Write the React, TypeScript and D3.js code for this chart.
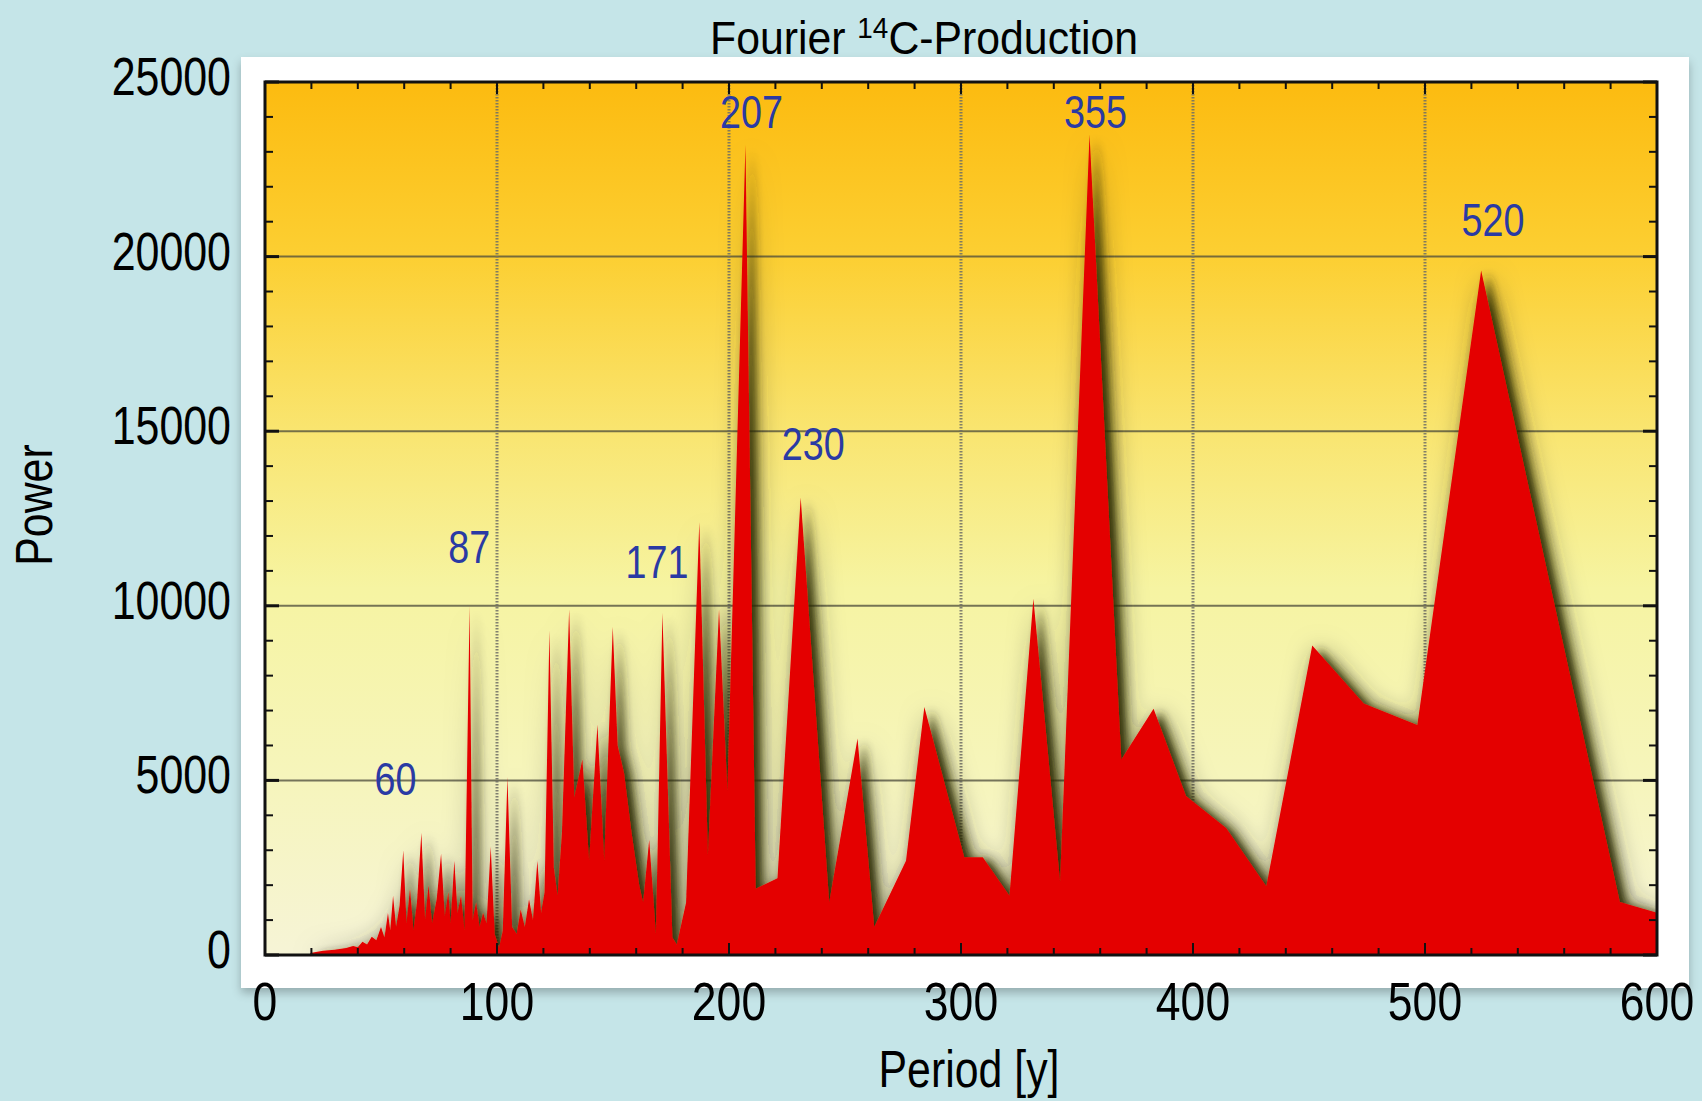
import React from "react";
import * as d3 from "d3";

const periods = [19.5, 25, 30, 35, 38, 40, 42, 44, 46, 48, 50, 51.5, 53, 54, 55.2, 56.5, 58, 59.6, 61, 62.5, 64, 65.5, 67.4, 69, 70.5, 72, 74, 75.9, 77.5, 79, 80, 81.6, 83, 84.5, 86, 88.2, 89.5, 91, 92.5, 94, 95.5, 97.3, 99, 100.9, 102.5, 104.5, 106.5, 108.5, 110.2, 112, 113.8, 115.5, 117.4, 119, 120.5, 122.6, 124.5, 126.1, 128, 131.1, 133.3, 136.8, 139.7, 143.3, 146.2, 149.9, 152, 154.8, 158, 161.3, 163, 165.6, 168.5, 171.3, 175.6, 177.5, 181.5, 187.2, 190.9, 195.7, 199.3, 207.1, 211.5, 220.9, 230.9, 243.2, 255.4, 262.6, 276.3, 284.2, 301.4, 309.4, 320.9, 331.2, 342.7, 355.4, 369.1, 383, 397, 414.3, 431.6, 451.4, 473.6, 496.7, 524.2, 584, 600];
const powers = [60, 120, 150, 200, 260, 220, 380, 300, 520, 420, 800, 500, 1200, 700, 1700, 800, 1400, 3000, 900, 1900, 700, 1500, 3500, 1000, 2000, 900, 1600, 2900, 1100, 1800, 900, 2700, 1200, 1700, 700, 10000, 1000, 1500, 800, 1200, 900, 3100, 600, 200, 700, 5100, 800, 600, 1300, 800, 1600, 1000, 2700, 1200, 1800, 9300, 2500, 1700, 3500, 9900, 4500, 5600, 2700, 6600, 2700, 9400, 6000, 5200, 3500, 2000, 1500, 3300, 600, 9800, 500, 300, 1500, 12400, 2850, 9900, 4700, 23200, 1900, 2200, 13100, 1500, 6200, 800, 2700, 7100, 2800, 2800, 1700, 10200, 2100, 23500, 5600, 7050, 4550, 3640, 1970, 8860, 7200, 6590, 19600, 1520, 1210];

const peakLabels = ["60", "87", "171", "207", "230", "355", "520"];
const peakLabelX = [56.2, 88.0, 169.0, 209.7, 236.3, 358.0, 529.3];
const peakLabelY = [4580, 11215, 10810, 23676, 14174, 23676, 20592];

const xTicks = [0, 100, 200, 300, 400, 500, 600];
const yTicks = [0, 5000, 10000, 15000, 20000, 25000];

const W = 1702, H = 1101;
const L = 265, R = 1657, T = 82, B = 955;
const FONT = "'Liberation Sans', Arial, Helvetica, sans-serif";

function T2(props: { x: number; y: number; sx: number; size: number; anchor?: string; fill?: string; rotate?: number; children: React.ReactNode }) {
  const { x, y, sx, size, anchor = "middle", fill = "#000", rotate = 0, children } = props;
  return (
    <text
      transform={`translate(${x},${y}) rotate(${rotate}) scale(${sx},1)`}
      textAnchor={anchor}
      fontFamily={FONT}
      fontSize={size}
      fill={fill}
    >
      {children}
    </text>
  );
}

export default function App() {
  const x = d3.scaleLinear().domain([0, 600]).range([L, R]);
  const y = d3.scaleLinear().domain([0, 25000]).range([B, T]);
  const data = periods.map((p, i) => ({ p, v: powers[i] }));
  const area = d3.area<{ p: number; v: number }>()
    .x((d) => x(d.p))
    .y0(y(0))
    .y1((d) => y(d.v))
    .curve(d3.curveLinear);

  const xMinor = d3.range(0, 601, 20);
  const yMinor = d3.range(0, 25001, 1000);

  return (
    <svg width={W} height={H} style={{ position: "absolute", left: 0, top: 0, background: "#c5e5e8" }}>
      <defs>
        <linearGradient id="bg" x1="0" y1="0" x2="0" y2="1">
          <stop offset="0" stopColor="#fcbb10" />
          <stop offset="0.2" stopColor="#fccf32" />
          <stop offset="0.4" stopColor="#f9e570" />
          <stop offset="0.58" stopColor="#f6f4a2" />
          <stop offset="0.8" stopColor="#f6f5bc" />
          <stop offset="1" stopColor="#f6f4d6" />
        </linearGradient>
        <filter id="sh" x="-5%" y="-10%" width="115%" height="125%">
          <feGaussianBlur in="SourceAlpha" stdDeviation="5" result="b1" />
          <feOffset in="b1" dx="7" dy="3" result="o1" />
          <feFlood floodColor="#2a2a05" floodOpacity="0.92" />
          <feComposite in2="o1" operator="in" result="s1" />
          <feGaussianBlur in="SourceAlpha" stdDeviation="13" result="b2" />
          <feOffset in="b2" dx="6" dy="3" result="o2" />
          <feFlood floodColor="#303010" floodOpacity="0.55" />
          <feComposite in2="o2" operator="in" result="s2" />
          <feMerge>
            <feMergeNode in="s2" />
            <feMergeNode in="s1" />
            <feMergeNode in="SourceGraphic" />
          </feMerge>
        </filter>
        <filter id="panelSh" x="-5%" y="-5%" width="110%" height="115%">
          <feGaussianBlur in="SourceAlpha" stdDeviation="5" />
          <feOffset dx="0" dy="5" result="b" />
          <feFlood floodColor="#000" floodOpacity="0.25" />
          <feComposite in2="b" operator="in" />
          <feMerge>
            <feMergeNode />
            <feMergeNode in="SourceGraphic" />
          </feMerge>
        </filter>
        <clipPath id="plotClip">
          <rect x={L} y={T} width={R - L} height={B - T} />
        </clipPath>
      </defs>

      <rect x={0} y={0} width={W} height={H} fill="#c5e5e8" />
      <rect x={241} y={57} width={1448} height={931} fill="#ffffff" filter="url(#panelSh)" />
      <rect x={L} y={T} width={R - L} height={B - T} fill="url(#bg)" />

      {yTicks.slice(1, -1).map((t) => (
        <line key={"gy" + t} x1={L} x2={R} y1={y(t)} y2={y(t)} stroke="#4a4a3a" strokeWidth={2} opacity={0.75} />
      ))}
      {xTicks.slice(1, -1).map((t) => (
        <line key={"gx" + t} x1={x(t)} x2={x(t)} y1={T} y2={B} stroke="#6f6f66" strokeWidth={3} strokeDasharray="1.5,1.5" opacity={0.85} />
      ))}

      <g clipPath="url(#plotClip)">
        <path d={area(data) || ""} fill="#e40000" filter="url(#sh)" />
      </g>

      <rect x={L} y={T} width={R - L} height={B - T} fill="none" stroke="#111" strokeWidth={3} />
      {xMinor.map((t) => {
        const major = t % 100 === 0;
        const len = major ? 12 : 7;
        return (
          <g key={"xt" + t}>
            <line x1={x(t)} x2={x(t)} y1={B} y2={B - len} stroke="#111" strokeWidth={2} />
            <line x1={x(t)} x2={x(t)} y1={T} y2={T + len} stroke="#111" strokeWidth={2} />
          </g>
        );
      })}
      {yMinor.map((t) => {
        const major = t % 5000 === 0;
        const len = major ? 14 : 8;
        return (
          <g key={"yt" + t}>
            <line x1={L} x2={L + len} y1={y(t)} y2={y(t)} stroke="#111" strokeWidth={major ? 3 : 2} />
            <line x1={R} x2={R - len} y1={y(t)} y2={y(t)} stroke="#111" strokeWidth={major ? 3 : 2} />
          </g>
        );
      })}

      {xTicks.map((t) => (
        <T2 key={"xl" + t} x={x(t)} y={1020} sx={0.84} size={53}>
          {t}
        </T2>
      ))}
      {yTicks.map((t) => (
        <T2 key={"yl" + t} x={231} y={y(t) + 13} sx={0.81} size={53} anchor="end">
          {t}
        </T2>
      ))}

      {peakLabels.map((s, i) => (
        <T2 key={"pl" + s} x={x(peakLabelX[i])} y={y(peakLabelY[i])} sx={0.82} size={46} fill="#2a3aa4">
          {s}
        </T2>
      ))}

      <text
        transform="translate(924,54) scale(0.93,1)"
        textAnchor="middle"
        fontFamily={FONT}
        fontSize={46}
        fill="#000"
      >
        Fourier <tspan fontSize={30} dy={-16}>14</tspan>
        <tspan dy={16}>C-Production</tspan>
      </text>
      <T2 x={969} y={1087} sx={0.84} size={51}>
        Period [y]
      </T2>
      <T2 x={52} y={505} sx={0.84} size={51} rotate={-90}>
        Power
      </T2>
    </svg>
  );
}
